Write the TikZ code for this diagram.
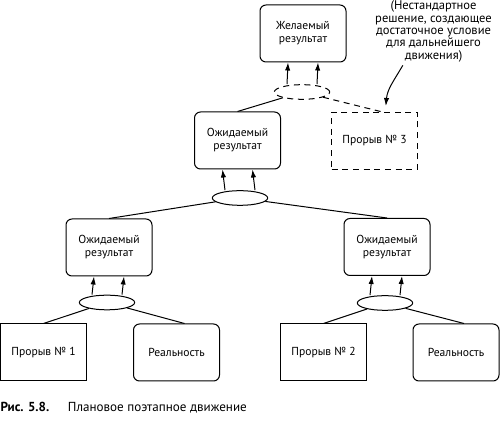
\documentclass[tikz,border=0pt]{standalone}
\usepackage{fontspec}
\setmainfont{PT Sans}
\usepackage{tikz}
\usetikzlibrary{arrows.meta}
\usetikzlibrary{calc}
\usetikzlibrary{math}
\usetikzlibrary{shapes.geometric}

\begin{document}
\begin{tikzpicture}[x=0.75pt,y=-0.75pt,line width=0.75pt,
  >={Latex[length=6pt,width=4pt]},
  box/.style={draw,minimum width=64.5pt,minimum height=42.75pt,align=center,
    inner sep=1pt,font=\fontsize{8.7}{9.8}\selectfont},
  rbox/.style={box,rounded corners=4.5pt},
  dbox/.style={box,dash pattern=on 4.5pt off 3.5pt},
  oval/.style={draw,ellipse,minimum width=41.5pt,minimum height=11pt,inner sep=0pt},
  doval/.style={oval,dash pattern=on 4.5pt off 3.5pt}]

  \tikzmath{
    \ofs = 11.25; % half distance between the two arrows
  }

  \useasboundingbox (0,0) rectangle (500,423);

  % Desired result and the step below it
  \node[rbox] (goal) at (303,33.5) {Желаемый\\результат};
  \node[doval] (E0) at (302,92) {};
  \node[rbox] (res) at (237.5,140.5) {Ожидаемый\\результат};
  \node[dbox] (brk3) at (374.5,141) {Прорыв № 3};

  % remark on breakthrough 3
  \node[align=center,inner sep=0pt,font=\fontsize{9.4}{9.3}\selectfont] (note) at (433.5,31.5)
  {(Нестандартное\\решение, создающее\\достаточное условие\\для дальнейшего\\движения)};

  % second level
  \node[oval] (E1) at (240,198) {};
  \node[rbox] (resL) at (109,247.5) {Ожидаемый\\результат};
  \node[rbox] (resR) at (387,247) {Ожидаемый\\результат};

  % bottom level
  \node[oval] (EL) at (107,302.5) {};
  \node[oval] (ER) at (385,303) {};
  \node[box] (brk1) at (43.5,352.5) {Прорыв № 1};
  \node[rbox] (real1) at (176.5,352.5) {Реальность};
  \node[box] (brk2) at (323.5,352.5) {Прорыв № 2};
  \node[rbox] (real2) at (456,352.5) {Реальность};

  % arrows up into the boxes
  \draw[->] ([xshift=-\ofs pt]E0.north) -- ([xshift=-\ofs pt]goal.south);
  \draw[->] ([xshift=\ofs pt]E0.north) -- ([xshift=\ofs pt]goal.south);
  \draw[->] ([xshift=-\ofs pt]E1.north) -- ([xshift=-\ofs pt]res.south);
  \draw[->] ([xshift=\ofs pt]E1.north) -- ([xshift=\ofs pt]res.south);
  \draw[->] ([xshift=-\ofs pt]EL.north) -- ([xshift=-\ofs pt]resL.south);
  \draw[->] ([xshift=\ofs pt]EL.north) -- ([xshift=\ofs pt]resL.south);
  \draw[->] ([xshift=-\ofs pt]ER.north) -- ([xshift=-\ofs pt]resR.south);
  \draw[->] ([xshift=\ofs pt]ER.north) -- ([xshift=\ofs pt]resR.south);

  % lines from the ovals down to the boxes
  \draw (E0) -- (res.north);
  \draw[dash pattern=on 4.5pt off 3.5pt] (E0) -- ([xshift=6pt]brk3.north);
  \draw (E1) -- (resL.north);
  \draw (E1) -- (resR.north);
  \draw (EL) -- (brk1.north);
  \draw (EL) -- ([xshift=6pt]real1.north);
  \draw (ER) -- (brk2.north);
  \draw (ER) -- ([xshift=6pt]real2.north);

  % curved pointer from the remark
  \draw[->] ([xshift=-23pt,yshift=-2pt]note.south) to[out=240,in=85]
    ([xshift=8.5pt,yshift=4.5pt]brk3.north);

  % caption
  \node[anchor=west,inner sep=0pt,font=\fontsize{9.8}{12}\selectfont] (cap) at (0,408)
  {\textbf{Рис. 5.8.}\hspace{14pt}Плановое поэтапное движение};

\end{tikzpicture}
\end{document}
